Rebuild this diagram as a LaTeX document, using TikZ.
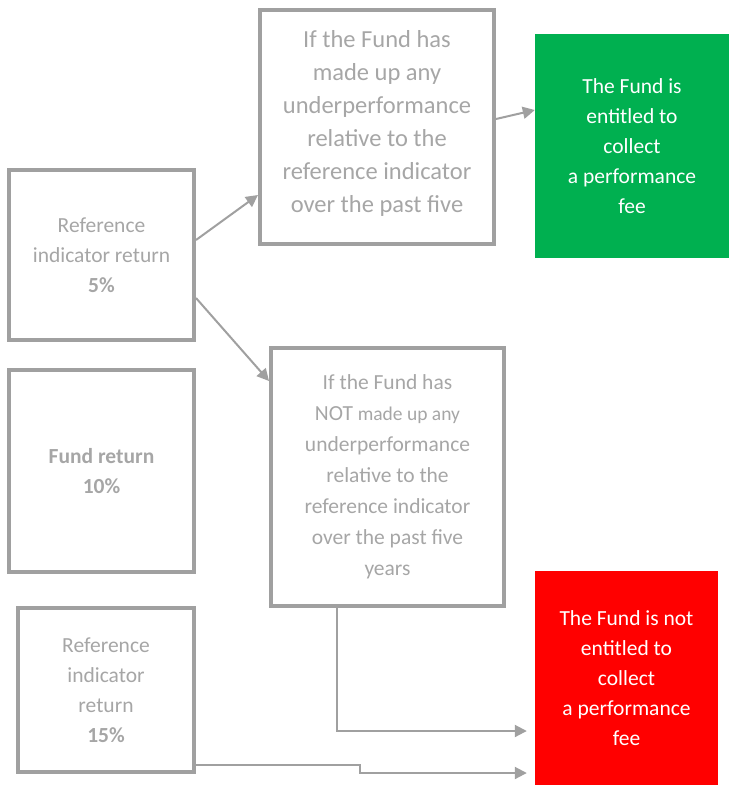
\documentclass[tikz,border=0pt]{standalone}
\usepackage{fontspec}
\setmainfont{Carlito}
\usetikzlibrary{arrows.meta}
\definecolor{boxgray}{HTML}{A0A0A0}
\definecolor{txtgray}{HTML}{A6A6A6}
\definecolor{feegreen}{HTML}{00B050}
\definecolor{feered}{HTML}{FF0000}
\begin{document}
\begin{tikzpicture}[
  x=1pt, y=-1pt,
  every node/.style={align=center, inner sep=0pt},
  ret/.style={draw=boxgray, line width=4pt, text=txtgray, font=\fontsize{21.5}{30}\selectfont},
  cond/.style={draw=boxgray, line width=4pt, text=txtgray},
  fee/.style={text=white, font=\fontsize{21.5}{30}\selectfont},
  link/.style={-{Triangle[length=12pt,width=12pt]}, draw=boxgray, line width=2pt}]

\useasboundingbox (0,0) rectangle (729,785);

\node[ret, minimum width=185, minimum height=170] (r5)  at (101.5,255) {Reference\\indicator return\\\textbf{5\%}};
\node[ret, minimum width=185, minimum height=202] (fr)  at (101.5,471) {\textbf{Fund return}\\\textbf{10\%}};
\node[ret, minimum width=176, minimum height=164] (r15) at (106,690)   {Reference\\indicator\\return\\\textbf{15\%}};

\node[cond, minimum width=234, minimum height=234, font=\fontsize{24.5}{33}\selectfont] (up) at (377,127)
  {If the Fund has\\made up any\\underperformance\\relative to the\\reference indicator\\over the past five\\[-21pt]\mbox{}};
\node[cond, minimum width=233, minimum height=258, font=\fontsize{21.5}{31}\selectfont] (notup) at (387.5,477)
  {If the Fund has\\NOT {\fontsize{19.5}{31}\selectfont made up any}\\underperformance\\relative to the\\reference indicator\\over the past five\\years};

\node[fee, fill=feegreen, minimum width=194, minimum height=224] (yes) at (632,146)
  {The Fund is\\entitled to\\collect\\a performance\\fee};
\node[fee, fill=feered, minimum width=183, minimum height=214] (no) at (626.5,678)
  {The Fund is not\\entitled to\\collect\\a performance\\fee};

\draw[link] ([yshift=15pt]r5.east) -- ([yshift=-68pt]up.west);
\draw[link] ([yshift=8pt]up.east) -- ([yshift=36pt]yes.west);
\draw[link] ([yshift=-43pt]r5.east) -- ([yshift=96pt]notup.west);
\draw[link, shorten >=8pt] ([xshift=-51pt]notup.south) |- ([yshift=-53pt]no.west);
\draw[link, shorten >=8pt] ([yshift=-75pt]r15.east) -- ++(164,0) |- ([yshift=-95pt]no.west);
\end{tikzpicture}
\end{document}
